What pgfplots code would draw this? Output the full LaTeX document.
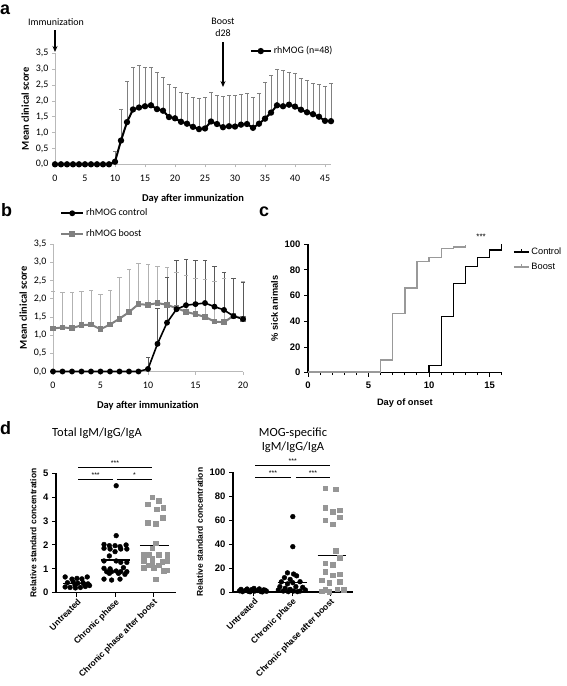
\documentclass[border=0pt]{standalone}
\usepackage{fontspec}
\setmainfont{Carlito}
\newfontfamily\arial{Liberation Sans}
\usepackage{pgfplots}
\usepackage{pgfplotstable}
\pgfplotsset{compat=1.18}
\usetikzlibrary{arrows.meta}
\definecolor{sq}{RGB}{150,150,150}
\definecolor{bgray}{RGB}{128,128,128}

\pgfplotstableread{
d m e
0 0 0
1 0 0
2 0 0
3 0 0
4 0 0
5 0 0
6 0 0
7 0 0
8 0 0
9 0 0
10 0.08 0.32
11 0.75 0.97
12 1.33 1.27
13 1.73 1.32
14 1.79 1.32
15 1.83 1.23
16 1.86 1.19
17 1.74 1.16
18 1.69 1.04
19 1.49 1.04
20 1.45 0.97
21 1.34 0.92
22 1.28 0.96
23 1.18 0.94
24 1.11 0.97
25 1.13 0.99
26 1.35 0.92
27 1.27 0.91
28 1.17 0.97
29 1.20 0.98
30 1.19 0.98
31 1.25 0.95
32 1.27 0.95
33 1.15 0.97
34 1.28 0.96
35 1.44 1.14
36 1.63 1.16
37 1.86 1.13
38 1.83 1.14
39 1.88 1.03
40 1.82 1.06
41 1.72 0.99
42 1.64 1.00
43 1.58 0.98
44 1.50 1.01
45 1.37 1.09
46 1.36 1.18
}\tblA

\pgfplotstableread{
d m e
0 0 0
1 0 0
2 0 0
3 0 0
4 0 0
5 0 0
6 0 0
7 0 0
8 0 0
9 0 0
10 0.07 0.33
11 0.76 0.96
12 1.34 1.24
13 1.71 1.33
14 1.82 1.27
15 1.85 1.19
16 1.88 1.16
17 1.78 1.10
18 1.69 1.03
19 1.52 1.03
20 1.44 1.00
}\tblB

\pgfplotstableread{
d m e
0 1.18 1.01
1 1.21 0.96
2 1.19 0.97
3 1.27 0.92
4 1.29 0.93
5 1.16 0.96
6 1.29 0.95
7 1.45 1.13
8 1.63 1.16
9 1.85 1.11
10 1.83 1.12
11 1.88 1.01
12 1.83 1.04
13 1.74 0.97
14 1.64 0.99
15 1.57 0.99
16 1.50 1.02
17 1.37 1.09
18 1.35 1.20
19 1.53 1.02
20 1.45 1.02
}\tblC

\pgfplotsset{
  excel/.style={
    scale only axis, anchor=south west, clip=false,
    axis x line=bottom, axis y line=left,
    axis line style={-, gray!55, line width=0.9pt},
    tick align=outside, major tick length=3bp,
    tick style={gray!55, line width=0.7pt},
    yticklabel style={/pgf/number format/.cd, fixed, fixed zerofill, precision=1, use comma},
    /pgf/number format/assume math mode=true,
    ticklabel style={font=\fontsize{10}{12}\selectfont},
    xticklabel style={yshift=-4bp},
    label style={font=\bfseries\fontsize{10.5}{12}\selectfont},
    xlabel style={yshift=-6bp},
    ymin=0, ymax=3.5, ytick={0,0.5,...,3.5},
  },
  prism/.style={
    scale only axis, anchor=south west, clip=false,
    axis x line=bottom, axis y line=left,
    axis line style={-, black, line width=1.2pt},
    tick align=outside, major tick length=4bp, minor tick length=2.5bp,
    tick style={black, line width=1pt},
    /pgf/number format/assume math mode=true,
    ticklabel style={font=\arial\bfseries\fontsize{9.5}{11}\selectfont},
    label style={font=\arial\bfseries\fontsize{9.3}{11}\selectfont},
  },
  dpanel/.style={
    prism, xmin=0.45, xmax=3.6, xtick={1,2,3},
    xticklabels={Untreated, Chronic phase, Chronic phase after boost},
    xticklabel style={rotate=45, anchor=north east, inner sep=1bp, font=\arial\bfseries\fontsize{8.6}{10}\selectfont},
    ylabel={Relative standard concentration},
    ylabel style={font=\arial\bfseries\fontsize{8.5}{10}\selectfont},
  },
  ebar/.style={only marks, mark=none, forget plot,
    error bars/y dir=plus, error bars/y explicit, error bars/error mark=none,
    error bars/error bar style={draw=#1, solid, line width=0.8pt}},
  ecap/.style={only marks, mark=-, mark size=2.1bp, forget plot,
    mark options={draw=#1, solid, line width=0.8pt}},
}

\begin{document}
\begin{tikzpicture}
\path[use as bounding box] (0,0) rectangle (567bp,-686bp);

% panel letters
\node[font=\arial\bfseries\fontsize{18}{18}\selectfont, anchor=base west, inner sep=0] at (0bp,-14bp) {a};
\node[font=\arial\bfseries\fontsize{18}{18}\selectfont, anchor=base west, inner sep=0] at (1bp,-216bp) {b};
\node[font=\arial\bfseries\fontsize{18}{18}\selectfont, anchor=base west, inner sep=0] at (259bp,-216bp) {c};
\node[font=\arial\bfseries\fontsize{18}{18}\selectfont, anchor=base west, inner sep=0] at (0bp,-434bp) {d};

% panel a annotations
\node[font=\fontsize{10}{12}\selectfont] at (56bp,-21.7bp) {Immunization};
\draw[line width=1.2pt, -{Stealth[length=6bp,width=5bp]}] (55bp,-30bp) -- (55bp,-52bp);
\node[font=\fontsize{10}{11.5}\selectfont, align=center] at (223bp,-27.5bp) {Boost\\d28};
\draw[line width=1.2pt, -{Stealth[length=6bp,width=5bp]}] (223bp,-42bp) -- (223bp,-87bp);

% panel d titles
\node[font=\fontsize{12.5}{15}\selectfont] at (97bp,-433bp) {Total IgM/IgG/IgA};
\node[font=\fontsize{12.5}{14}\selectfont, align=center] at (293bp,-440bp) {MOG-specific\\IgM/IgG/IgA};

% ---------------- panel a
\begin{axis}[excel, at={(55bp,-164.3bp)}, width=276bp, height=111bp,
  xmin=0, xmax=46, xtick={0,5,...,45},
  xlabel={Day after immunization}, ylabel={Mean clinical score},
  legend style={at={(0.705,1.02)}, anchor=west, draw=none, fill=none,
    font=\fontsize{10}{12}\selectfont, inner sep=0pt},
  legend image code/.code={\draw[mark repeat=2, mark phase=2, #1] plot coordinates {(0bp,0bp)(10bp,0bp)(20bp,0bp)};},
]
\addplot[restrict x to domain=10:46, ebar=gray] table[x=d, y=m, y error=e] {\tblA};
\addplot[restrict x to domain=10:46, ecap=gray] table[x=d, y expr=\thisrow{m}+\thisrow{e}] {\tblA};
\addplot[black, line width=2pt, mark=*, mark size=2.1bp, mark options={solid}]
  table[x=d, y=m] {\tblA};
\addlegendentry{rhMOG (n=48)}
\end{axis}

% ---------------- panel b
\begin{axis}[excel, at={(53bp,-371.5bp)}, width=190bp, height=127.5bp,
  xmin=0, xmax=20, xtick={0,5,...,20},
  xlabel={Day after immunization}, ylabel={Mean clinical score},
  reverse legend,
  legend style={at={(0.037,1.161)}, anchor=west, draw=none, fill=none,
    font=\fontsize{10}{12}\selectfont, inner sep=0pt, row sep=8bp},
  legend cell align=left,
  legend image code/.code={\draw[mark repeat=2, mark phase=2, #1] plot coordinates {(0bp,0bp)(11bp,0bp)(22bp,0bp)};},
]
\addplot[ebar=black!30] table[x=d, y=m, y error=e] {\tblC};
\addplot[ecap=black!30] table[x=d, y expr=\thisrow{m}+\thisrow{e}] {\tblC};
\addplot[restrict x to domain=10:20, ebar=black!65] table[x=d, y=m, y error=e] {\tblB};
\addplot[restrict x to domain=10:20, ecap=black!65] table[x=d, y expr=\thisrow{m}+\thisrow{e}] {\tblB};
\addplot[bgray, line width=2pt, mark=square*, mark size=1.9bp, mark options={solid}]
  table[x=d, y=m] {\tblC};
\addlegendentry{rhMOG boost}
\addplot[black, line width=1.6pt, mark=*, mark size=2.1bp, mark options={solid}]
  table[x=d, y=m] {\tblB};
\addlegendentry{rhMOG control}
\end{axis}

% ---------------- panel c
\begin{axis}[prism, at={(308bp,-372.7bp)}, width=193.7bp, height=128.4bp,
  xmin=0, xmax=16, ymin=0, ymax=100,
  xtick={0,5,10,15}, minor xtick={0,...,16}, ytick={0,20,...,100},
  xticklabel style={yshift=-2bp}, xlabel style={yshift=-3bp},
  xlabel={Day of onset}, ylabel={\% sick animals},
  legend style={at={(1.058,0.882)}, anchor=west, draw=none, fill=none,
    font=\arial\fontsize{9.3}{11}\selectfont, inner sep=0pt, row sep=3bp},
  legend cell align=left,
  legend image code/.code={\draw[#1] (0bp,0bp)--(15bp,0bp); \draw[#1] (7.5bp,0bp)--(7.5bp,3.5bp);},
]
\addplot[black, line width=1.3pt, const plot mark left]
  coordinates {(0,0)(10,5.5)(11,43.5)(12,69.5)(13,82.5)(14,89.5)(15,95.5)(16,100)};
\addlegendentry{Control}
\addplot[black!40, line width=1.3pt, const plot mark left]
  coordinates {(0,0.6)(6,10)(7,46)(8,66)(9,86.5)(10,89.5)(11,96.7)(12,98)(13,99.5)};
\addlegendentry{Boost}
\node[font=\arial\fontsize{8}{9}\selectfont, anchor=south] at (axis cs:14.3,101) {***};
\end{axis}

% ---------------- panel d left
\begin{axis}[dpanel, at={(56bp,-592.7bp)}, width=120bp, height=119.4bp,
  ymin=0, ymax=5, ytick={0,1,...,5}]
\addplot[only marks, mark=*, mark size=2.4bp, black] coordinates {
 (0.69,0.66)(0.87,0.57)(1.00,0.60)(1.13,0.58)(1.27,0.66)
 (0.75,0.42)(0.90,0.45)(1.02,0.40)(1.16,0.42)(1.29,0.37)
 (0.69,0.24)(0.82,0.22)(0.96,0.20)(1.09,0.22)(1.22,0.26)(1.33,0.30)(0.95,0.32)(1.20,0.34)};
\addplot[only marks, mark=*, mark size=2.4bp, black] coordinates {
 (2.03,4.48)(2.03,2.39)(1.71,2.02)(1.85,1.97)(2.00,1.97)(2.13,1.93)(2.29,2.00)
 (1.71,1.86)(1.87,1.83)(2.15,1.83)(2.31,1.83)(1.85,1.54)(2.00,1.72)
 (1.71,1.33)(2.03,1.33)(2.15,1.27)(2.31,1.27)
 (1.71,1.02)(1.78,0.88)(1.91,0.88)(2.03,0.91)(2.15,0.88)(2.31,0.88)
 (1.85,0.81)(2.09,0.81)(2.26,0.77)(1.71,0.57)(1.91,0.53)(2.13,0.57)(1.87,1.00)(2.22,1.05)};
\addplot[only marks, mark=square*, mark size=2.3bp, sq] coordinates {
 (2.97,4.00)(3.15,3.85)(2.86,3.70)(3.09,3.50)(3.26,3.57)(3.25,3.14)(2.86,2.93)(3.06,2.88)
 (3.06,2.07)(2.97,1.86)(2.75,1.58)(2.89,1.60)(3.15,1.58)(3.37,1.60)
 (2.75,1.33)(3.24,1.30)(3.37,1.33)(2.89,1.16)(3.15,1.16)(2.75,1.05)(3.02,1.05)
 (3.28,0.91)(3.37,0.95)(3.06,0.57)(2.97,1.45)(2.97,1.25)};
\addplot[black, line width=1.1pt] coordinates {(0.63,0.39)(1.37,0.39)};
\addplot[black, line width=1.1pt] coordinates {(1.62,1.37)(2.39,1.37)};
\addplot[black, line width=1.1pt] coordinates {(2.65,1.98)(3.42,1.98)};
\addplot[black, line width=1pt] coordinates {(1.03,5.25)(2.97,5.25)};
\addplot[black, line width=1pt] coordinates {(1.03,4.76)(1.95,4.76)};
\addplot[black, line width=1pt] coordinates {(2.05,4.76)(2.97,4.76)};
\node[font=\arial\fontsize{7}{8}\selectfont, anchor=south, inner sep=1bp] at (axis cs:2,5.27) {***};
\node[font=\arial\fontsize{7}{8}\selectfont, anchor=south, inner sep=1bp] at (axis cs:1.49,4.78) {***};
\node[font=\arial\fontsize{7}{8}\selectfont, anchor=south, inner sep=1bp] at (axis cs:2.51,4.78) {*};
\end{axis}

% ---------------- panel d right
\begin{axis}[dpanel, at={(233bp,-592bp)}, width=120bp, height=119.7bp,
  ymin=0, ymax=100, ytick={0,20,...,100}]
\addplot[only marks, mark=*, mark size=2.4bp, black] coordinates {
 (0.62,1.0)(0.70,0.3)(0.78,1.5)(0.86,0.5)(0.94,2.0)(1.02,0.8)(1.10,1.2)(1.18,0.4)(1.26,1.8)(1.33,0.6)
 (0.66,2.2)(0.82,2.5)(1.00,3.0)(1.14,2.6)(1.30,1.4)(0.90,0.2)(1.22,0.1)};
\addplot[only marks, mark=*, mark size=2.4bp, black] coordinates {
 (2.02,63)(2.02,37.9)(1.88,16)(2.04,15)(2.12,13.5)(1.80,12)(1.95,10.5)(1.72,8.5)(1.88,6.8)(2.02,7.8)(2.21,8.6)
 (1.68,4.5)(1.82,3.1)(1.95,2.2)(2.10,4.5)(2.28,3.9)(2.35,1.7)(1.77,0.8)(2.04,0.8)(2.21,0.8)(1.64,1.7)(2.14,0.3)(1.90,0.3)};
\addplot[only marks, mark=square*, mark size=2.3bp, sq] coordinates {
 (2.87,86.6)(3.15,86)(2.87,70.5)(3.06,67)(3.25,68.5)(2.87,60)(3.25,62.4)(3.06,56.5)
 (3.15,34.5)(3.25,28.7)(2.87,24)(3.06,23)(2.87,17)(3.25,15)(3.06,14.2)
 (2.78,10)(2.98,7.8)(3.25,8.6)(3.18,2.5)(2.87,1.7)(2.98,0.5)(3.35,1.7)(2.78,0.8)};
\addplot[black, line width=1.1pt] coordinates {(0.62,0.9)(1.38,0.9)};
\addplot[black, line width=1.1pt] coordinates {(1.62,7.8)(2.38,7.8)};
\addplot[black, line width=1.1pt] coordinates {(2.67,30.5)(3.42,30.5)};
\addplot[black, line width=1pt] coordinates {(1.03,106.1)(3.0,106.1)};
\addplot[black, line width=1pt] coordinates {(1.03,95.5)(1.96,95.5)};
\addplot[black, line width=1pt] coordinates {(2.1,95.5)(3.0,95.5)};
\node[font=\arial\fontsize{7}{8}\selectfont, anchor=south, inner sep=1bp] at (axis cs:2.02,106.5) {***};
\node[font=\arial\fontsize{7}{8}\selectfont, anchor=south, inner sep=1bp] at (axis cs:1.5,96) {***};
\node[font=\arial\fontsize{7}{8}\selectfont, anchor=south, inner sep=1bp] at (axis cs:2.55,96) {***};
\end{axis}
\end{tikzpicture}
\end{document}
